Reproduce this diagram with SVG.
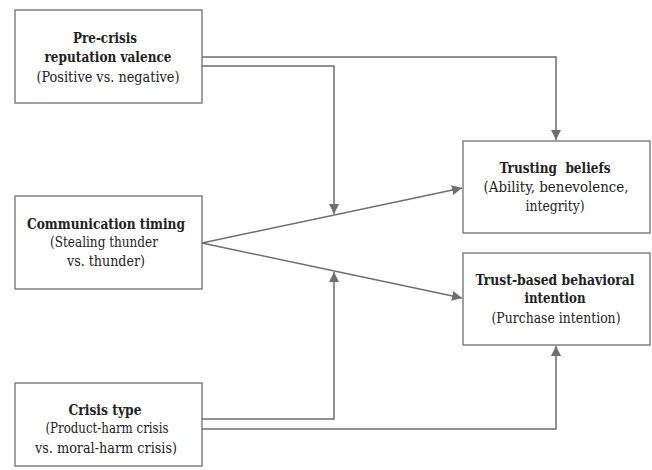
<svg xmlns="http://www.w3.org/2000/svg" width="652" height="470" viewBox="0 0 652 470">
<style>
.box{fill:#fff;stroke:#6e6e6e;stroke-width:1.3}
.t{font-family:'DejaVu Serif Condensed','DejaVu Serif',serif;font-size:14px;fill:#222;text-anchor:middle}
.b{font-weight:bold}
.c{fill:none;stroke:#6e6e6e;stroke-width:1.5}
</style>
<defs>
<marker id="ah" viewBox="0 0 10 10" refX="10" refY="5" markerWidth="10" markerHeight="10" markerUnits="userSpaceOnUse" orient="auto">
<path d="M0,0 L10,5 L0,10 z" fill="#6e6e6e"/>
</marker>
</defs>
<g id="connectors">
<polyline class="c" points="202,57 556,57 556,140" marker-end="url(#ah)"/>
<polyline class="c" points="202,66 334,66 334,214" marker-end="url(#ah)"/>
<line class="c" x1="202" y1="243" x2="462" y2="188" marker-end="url(#ah)"/>
<line class="c" x1="202" y1="243" x2="462" y2="298" marker-end="url(#ah)"/>
<polyline class="c" points="202,419 334,419 334,272" marker-end="url(#ah)"/>
<polyline class="c" points="202,429 556,429 556,346" marker-end="url(#ah)"/>
</g>
<g id="pre-crisis">
<rect class="box" x="15" y="10" width="187" height="93"/>
<text class="t b" x="105" y="43" textLength="64" lengthAdjust="spacingAndGlyphs">Pre-crisis</text>
<text class="t b" x="108" y="62" textLength="127" lengthAdjust="spacingAndGlyphs">reputation valence</text>
<text class="t" x="108" y="82" textLength="143" lengthAdjust="spacingAndGlyphs">(Positive vs. negative)</text>
</g>
<g id="timing">
<rect class="box" x="15" y="196" width="187" height="93"/>
<text class="t b" x="106" y="229" textLength="158" lengthAdjust="spacingAndGlyphs">Communication timing</text>
<text class="t" x="104" y="247" textLength="108" lengthAdjust="spacingAndGlyphs">(Stealing thunder</text>
<text class="t" x="106" y="266" textLength="78" lengthAdjust="spacingAndGlyphs">vs. thunder)</text>
</g>
<g id="crisis-type">
<rect class="box" x="15" y="383" width="187" height="83"/>
<text class="t b" x="105" y="415" textLength="73" lengthAdjust="spacingAndGlyphs">Crisis type</text>
<text class="t" x="107" y="433" textLength="123" lengthAdjust="spacingAndGlyphs">(Product-harm crisis</text>
<text class="t" x="106" y="453" textLength="142" lengthAdjust="spacingAndGlyphs">vs. moral-harm crisis)</text>
</g>
<g id="trusting-beliefs">
<rect class="box" x="463" y="141" width="187" height="92"/>
<text class="t b" x="555" y="173" xml:space="preserve" textLength="111" lengthAdjust="spacingAndGlyphs">Trusting  beliefs</text>
<text class="t" x="556" y="192" textLength="145" lengthAdjust="spacingAndGlyphs">(Ability, benevolence,</text>
<text class="t" x="555" y="211" textLength="59" lengthAdjust="spacingAndGlyphs">integrity)</text>
</g>
<g id="behavioral-intention">
<rect class="box" x="463" y="253" width="187" height="92"/>
<text class="t b" x="555" y="285" textLength="159" lengthAdjust="spacingAndGlyphs">Trust-based behavioral</text>
<text class="t b" x="555" y="303" textLength="61" lengthAdjust="spacingAndGlyphs">intention</text>
<text class="t" x="556" y="323" textLength="129" lengthAdjust="spacingAndGlyphs">(Purchase intention)</text>
</g>
</svg>
